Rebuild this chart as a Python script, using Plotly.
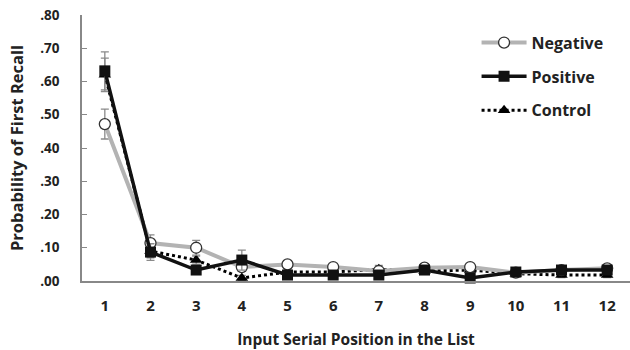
import plotly.graph_objects as go

positions = list(range(1, 13))
negative = [0.472, 0.114, 0.100, 0.042, 0.050, 0.042, 0.030, 0.040, 0.042, 0.025, 0.033, 0.038]
negative_err = [0.045, 0.025, 0.022, 0.012, 0.010, 0.010, 0.008, 0.010, 0.010, 0.008, 0.010, 0.010]
positive = [0.632, 0.087, 0.033, 0.063, 0.018, 0.018, 0.018, 0.033, 0.009, 0.027, 0.033, 0.033]
positive_err = [0.057, 0.025, 0.010, 0.030, 0.008, 0.008, 0.008, 0.010, 0.008, 0.008, 0.008, 0.008]
control = [0.620, 0.090, 0.063, 0.009, 0.027, 0.027, 0.035, 0.030, 0.033, 0.022, 0.018, 0.018]
control_err = [0.050, 0.020, 0.012, 0.008, 0.008, 0.008, 0.012, 0.008, 0.010, 0.008, 0.008, 0.008]
ytick_vals = [0, 0.1, 0.2, 0.3, 0.4, 0.5, 0.6, 0.7, 0.8]
ytick_text = [".00", ".10", ".20", ".30", ".40", ".50", ".60", ".70", ".80"]

font_family = "Open Sans"
err_style = lambda e: dict(type="data", array=e, visible=True, color="#8a8a8a", thickness=1.3, width=4)

fig = go.Figure()
fig.add_trace(go.Scatter(
    x=positions, y=control, name="Control", mode="lines+markers",
    line=dict(color="black", width=3, dash="dot"),
    marker=dict(symbol="triangle-up", size=11, color="black"),
    error_y=err_style(control_err), cliponaxis=False, legendrank=3, legendgroup="c"))
fig.add_trace(go.Scatter(
    x=positions, y=negative, name="Negative", mode="lines+markers",
    line=dict(color="#b3b3b3", width=4),
    marker=dict(symbol="circle", size=11, color="white", line=dict(color="#333333", width=1.3)),
    error_y=err_style(negative_err), cliponaxis=False, legendrank=1, legendgroup="n"))
fig.add_trace(go.Scatter(
    x=positions, y=positive, name="Positive", mode="lines+markers",
    line=dict(color="#111111", width=3.5),
    marker=dict(symbol="square", size=11, color="#111111"),
    error_y=err_style(positive_err), cliponaxis=False, legendrank=2, legendgroup="p"))

fig.update_layout(
    width=630, height=350,
    margin=dict(l=82, r=0, t=15, b=69),
    paper_bgcolor="white", plot_bgcolor="white",
    font=dict(family=font_family, color="#222222"),
    showlegend=True,
    legend=dict(x=0.72, y=0.96, xanchor="left", yanchor="top",
                font=dict(size=16, family=font_family, color="#222222", weight="bold"),
                bgcolor="rgba(0,0,0,0)", tracegroupgap=10, itemwidth=45),
    xaxis=dict(range=[0.5, 12.5], tickvals=positions, ticktext=[str(p) for p in positions],
               showgrid=False, zeroline=False, showline=True, linecolor="#888888", linewidth=1.5,
               ticks="", tickfont=dict(size=15, family=font_family, color="#222222", weight="bold"),
               ticklabelstandoff=10,
               title=dict(text="Input Serial Position in the List", standoff=21,
                          font=dict(size=15.5, family=font_family, color="#222222", weight="bold"))),
    yaxis=dict(range=[0, 0.8], tickvals=ytick_vals, ticktext=ytick_text,
               showgrid=False, zeroline=False, showline=True, linecolor="#888888", linewidth=1.5,
               ticks="inside", ticklen=5, tickcolor="#888888",
               tickfont=dict(size=13.5, family=font_family, color="#222222", weight="bold"),
               ticklabelstandoff=18,
               title=dict(text="Probability of First Recall", standoff=12,
                          font=dict(size=16.5, family=font_family, color="#222222", weight="bold"))),
)

fig.write_html("out.html")
